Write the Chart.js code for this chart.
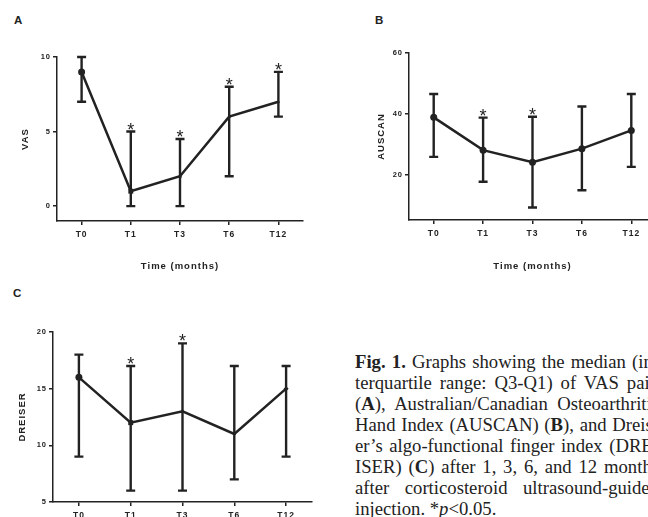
<!DOCTYPE html>
<html>
<head>
<meta charset="utf-8">
<script src="https://cdn.jsdelivr.net/npm/chart.js@4/dist/chart.umd.min.js"></script>
<style>
  html, body { margin: 0; padding: 0; background: #fff; overflow: hidden; width: 648px; height: 517px; }
  canvas { position: absolute; }
  .panel { position: absolute; font: bold 11.5px "Liberation Sans", Arial, sans-serif; color: #222; }
  #caption { position: absolute; left: 355px; top: 351px; width: 304px;
    font: 18.7px "Liberation Serif", "Times New Roman", serif; line-height: 21px; color: #222; }
  #caption div { text-align: justify; text-align-last: justify; white-space: nowrap; }
  #caption div.last { text-align: left; text-align-last: left; }
</style>
</head>
<body>
<div class="panel" style="left:14px;top:14px">A</div>
<div class="panel" style="left:375px;top:14px">B</div>
<div class="panel" style="left:13px;top:287px">C</div>
<canvas id="chartA" width="330" height="280" style="left:0;top:0"></canvas>
<canvas id="chartB" width="330" height="280" style="left:330px;top:0"></canvas>
<canvas id="chartC" width="330" height="260" style="left:0;top:280px"></canvas>
<div id="caption">
  <div><b>Fig. 1.</b> Graphs showing the median (in-</div>
  <div>terquartile range: Q3-Q1) of VAS pain</div>
  <div>(<b>A</b>), Australian/Canadian Osteoarthritis</div>
  <div>Hand Index (AUSCAN) (<b>B</b>), and Dreis-</div>
  <div>er’s algo-functional finger index (DRE-</div>
  <div>ISER) (<b>C</b>) after 1, 3, 6, and 12 months</div>
  <div>after corticosteroid ultrasound-guided</div>
  <div class="last">injection. *<i>p</i>&lt;0.05.</div>
</div>
<script>
// time points
const times = ['T0', 'T1', 'T3', 'T6', 'T12'];

// A: VAS pain
const vasMedian = [9, 1, 2, 6, 7];
const vasQ1 = [7, 0, 0, 2, 6];
const vasQ3 = [10, 5, 4.5, 8, 9];
const vasSig = [false, true, true, true, true];
const vasTicks = [0, 5, 10];

// B: AUSCAN
const auscanMedian = [38.8, 28, 24, 28.5, 34.5];
const auscanQ1 = [25.8, 17.6, 9.1, 14.8, 22.5];
const auscanQ3 = [46.5, 38.7, 39, 42.4, 46.5];
const auscanSig = [false, true, true, false, false];
const auscanTicks = [20, 40, 60];

// C: DREISER
const dreiserMedian = [16, 12, 13, 11, 15];
const dreiserQ1 = [9, 6, 6, 7, 9];
const dreiserQ3 = [18, 17, 19, 17, 17];
const dreiserSig = [false, true, true, false, false];
const dreiserTicks = [5, 10, 15, 20];

const INK = '#222';
const FONT = '"Liberation Sans", Arial, sans-serif';

// draws the Q1-Q3 whiskers and the * marks
const errorBars = {
  id: 'errorBars',
  beforeDraw(chart) {
    chart.ctx.letterSpacing = '1px'; // GraphPad-style spaced labels
  },
  afterDatasetsDraw(chart) {
    const ds = chart.data.datasets[0];
    const x = chart.scales.x, y = chart.scales.y;
    const ctx = chart.ctx;
    ctx.save();
    ctx.strokeStyle = INK;
    ctx.lineWidth = 2.4;
    ds.median.forEach((m, i) => {
      const px = x.getPixelForValue(i);
      const lo = y.getPixelForValue(ds.q1[i]);
      const hi = y.getPixelForValue(ds.q3[i]);
      ctx.beginPath();
      ctx.moveTo(px, lo); ctx.lineTo(px, hi);
      ctx.moveTo(px - 4.5, lo); ctx.lineTo(px + 4.5, lo);
      ctx.moveTo(px - 4.5, hi); ctx.lineTo(px + 4.5, hi);
      ctx.stroke();
      if (ds.sig[i]) {
        ctx.fillStyle = INK;
        ctx.font = '18px ' + FONT;
        ctx.textAlign = 'center';
        ctx.textBaseline = 'alphabetic';
        ctx.letterSpacing = '0px';
        ctx.fillText('*', px, hi + 4);
      }
    });
    ctx.restore();
  }
};

function makeChart(id, cfg) {
  return new Chart(document.getElementById(id), {
    type: 'line',
    data: {
      labels: times,
      datasets: [{
        data: cfg.median,
        median: cfg.median, q1: cfg.q1, q3: cfg.q3, sig: cfg.sig,
        borderColor: INK,
        backgroundColor: INK,
        borderWidth: 2.5,
        tension: 0,
        pointStyle: cfg.pointStyle,
        pointRadius: cfg.pointRadius,
        pointBorderWidth: 0
      }]
    },
    options: {
      responsive: false,
      animation: false,
      devicePixelRatio: 1,
      layout: { padding: cfg.padding },
      plugins: { legend: { display: false }, tooltip: { enabled: false } },
      scales: {
        x: {
          offset: true,
          afterFit: s => { s.height = cfg.xHeight; },
          border: { color: INK, width: 1.5 },
          grid: { drawOnChartArea: false, tickLength: 4, color: INK, lineWidth: 1.5 },
          ticks: { color: INK, font: { family: FONT, size: 8.5, weight: 'bold' }, padding: 5 },
          title: { display: true, text: 'Time (months)', color: INK,
                   font: { family: FONT, size: 9.5, weight: 'bold' }, padding: { bottom: 8 } }
        },
        y: {
          min: cfg.min, max: cfg.max,
          afterFit: s => { s.width = cfg.yWidth; },
          afterBuildTicks: s => { s.ticks = cfg.ticks.map(v => ({ value: v })); },
          border: { color: INK, width: 1.5 },
          grid: { drawOnChartArea: false, tickLength: 4, color: INK, lineWidth: 1.5 },
          ticks: { color: INK, font: { family: FONT, size: 7.5, weight: 'bold' }, padding: 2 },
          title: { display: true, text: cfg.yTitle, color: INK,
                   font: { family: FONT, size: 9.5, weight: 'bold' }, padding: { top: cfg.yTitlePad } }
        }
      }
    },
    plugins: [errorBars]
  });
}

makeChart('chartA', {
  median: vasMedian, q1: vasQ1, q3: vasQ3, sig: vasSig, ticks: vasTicks,
  min: -1, max: 10, yTitle: 'VAS', yTitlePad: 20,
  padding: { left: 0, top: 57, right: 27, bottom: 0 }, yWidth: 57, xHeight: 59,
  pointStyle: ['circle', 'rect', 'triangle', 'triangle', 'triangle'],
  pointRadius: [3.5, 3.5, 2.5, 2, 2]
});

makeChart('chartB', {
  median: auscanMedian, q1: auscanQ1, q3: auscanQ3, sig: auscanSig, ticks: auscanTicks,
  min: 5, max: 60, yTitle: 'AUSCAN', yTitlePad: 46,
  padding: { left: 0, top: 53, right: 2, bottom: 0 }, yWidth: 79, xHeight: 60,
  pointStyle: 'circle',
  pointRadius: 3.5
});

makeChart('chartC', {
  median: dreiserMedian, q1: dreiserQ1, q3: dreiserQ3, sig: dreiserSig, ticks: dreiserTicks,
  min: 5, max: 20, yTitle: 'DREISER', yTitlePad: 17,
  padding: { left: 0, top: 52, right: 18, bottom: 0 }, yWidth: 53, xHeight: 38,
  pointStyle: ['circle', 'rect', 'triangle', 'triangle', 'rectRot'],
  pointRadius: [3.5, 3.5, 2.5, 2, 2.5]
});
</script>
</body>
</html>
